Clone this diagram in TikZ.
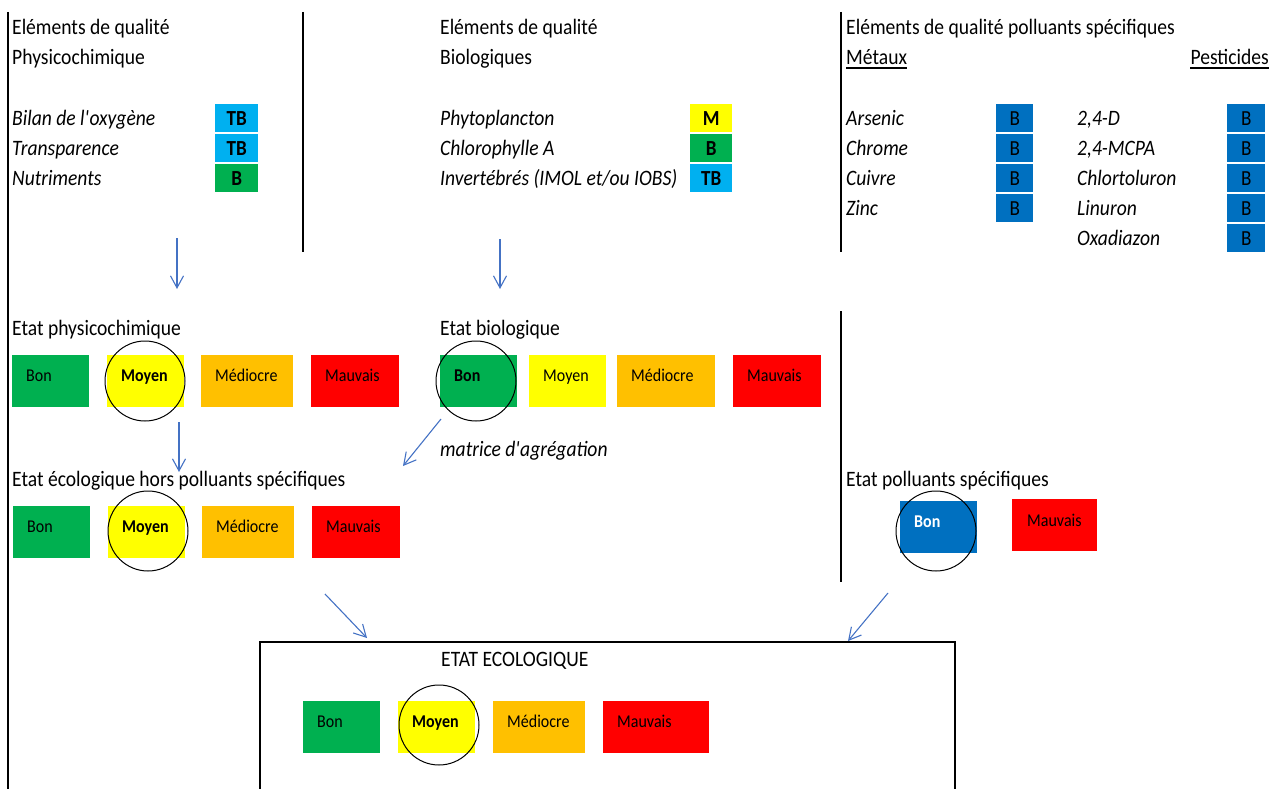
\documentclass[tikz,border=0pt]{standalone}
\usepackage{fontspec}
\setmainfont{Carlito}[FakeStretch=0.89]
\usetikzlibrary{arrows.meta}

\definecolor{qgreen}{HTML}{00B050}
\definecolor{qyellow}{HTML}{FFFF00}
\definecolor{qorange}{HTML}{FFC000}
\definecolor{qred}{HTML}{FF0000}
\definecolor{qblue}{HTML}{0070C0}
\definecolor{qlight}{HTML}{00B0F0}
\definecolor{arrowblue}{HTML}{4472C4}

\tikzset{
  txt/.style={inner sep=0pt, anchor=base west, font=\fontsize{22}{26}\selectfont},
  itm/.style={txt, font=\fontsize{22}{26}\selectfont\itshape},
  lab/.style={inner sep=0pt, anchor=base west, font=\fontsize{18}{22}\selectfont},
  badge/.style={inner sep=0pt, anchor=north west, font=\fontsize{21.5}{24}\selectfont},
  ratebox/.style={inner sep=0pt, anchor=north west, draw=none},
  ring/.style={circle, draw=black, line width=1pt, inner sep=0pt, minimum size=80pt},
  frame/.style={line width=2pt, black},
  flow/.style={arrowblue, line width=1.1pt, -{Straight Barb[length=12pt, width=13pt, line width=1.1pt]}},
}

% rating box: name, left x, top y, width, height, fill, label
\newcommand\ratecell[7]{%
  \node[ratebox, fill=#6, minimum width=#4pt, minimum height=#5pt] (#1) at (#2,#3) {};
  \node[lab] (#1-t) at ([xshift=14pt, yshift=-26pt]#1.north west) {#7};
}
% badge: name, left x, top y, width, fill, text
\newcommand\badgecell[6]{%
  \node[badge, fill=#5, minimum width=#4pt, minimum height=28pt] (#1) at (#2,#3) {#6};
}
\newcommand\apos{\textquotesingle}

\begin{document}
\begin{tikzpicture}[x=1pt, y=-1pt]
\useasboundingbox (0,0) rectangle (1279,789);

% ---- frame lines
\coordinate (l1a) at (8,12);    \coordinate (l1b) at (8,792);
\coordinate (l2a) at (303,12);  \coordinate (l2b) at (303,252);
\coordinate (l3a) at (841,12);  \coordinate (l3b) at (841,252);
\coordinate (l4a) at (841,311); \coordinate (l4b) at (841,582);
\draw[frame] (l1a) -- (l1b);
\draw[frame] (l2a) -- (l2b);
\draw[frame] (l3a) -- (l3b);
\draw[frame] (l4a) -- (l4b);
\coordinate (fbl) at (260,795); \coordinate (ftl) at (260,642);
\coordinate (ftr) at (955,642); \coordinate (fbr) at (955,795);
\draw[frame, line width=2.4pt] (fbl) -- (ftl) -- (ftr) -- (fbr);

% ---- physicochemical quality elements
\node[txt] (h1a) at (12,35) {Eléments de qualité};
\node[txt] (h1b) at (12,65) {Physicochimique};
\node[itm] (p1) at (12,125) {Bilan de l\apos oxygène};
\node[itm] (p2) at (12,155) {Transparence};
\node[itm] (p3) at (12,185) {Nutriments};
\badgecell{bp1}{215}{104}{43}{qlight}{\bfseries TB}
\badgecell{bp2}{215}{134}{43}{qlight}{\bfseries TB}
\badgecell{bp3}{215}{164}{43}{qgreen}{\bfseries B}

% ---- biological quality elements
\node[txt] (h2a) at (440,35) {Eléments de qualité};
\node[txt] (h2b) at (440,65) {Biologiques};
\node[itm] (b1) at (440,125) {Phytoplancton};
\node[itm] (b2) at (440,155) {Chlorophylle A};
\node[itm] (b3) at (440,185) {Invertébrés (IMOL et/ou IOBS)};
\badgecell{bb1}{690}{104}{42}{qyellow}{\bfseries M}
\badgecell{bb2}{690}{134}{42}{qgreen}{\bfseries B}
\badgecell{bb3}{690}{164}{42}{qlight}{\bfseries TB}

% ---- specific pollutants
\node[txt] (h3a) at (846,35) {Eléments de qualité polluants spécifiques};
\node[txt] (met) at (846,65) {Métaux};
\node[txt, anchor=base east] (pes) at (1269,65) {Pesticides};
\draw[line width=1.2pt] ([yshift=-3pt]met.base west) -- ([yshift=-3pt]met.base east);
\draw[line width=1.2pt] ([yshift=-3pt]pes.base west) -- ([yshift=-3pt]pes.base east);
\node[itm] (m1) at (846,125) {Arsenic};
\node[itm] (m2) at (846,155) {Chrome};
\node[itm] (m3) at (846,185) {Cuivre};
\node[itm] (m4) at (846,215) {Zinc};
\badgecell{bm1}{996}{104}{37}{qblue}{B}
\badgecell{bm2}{996}{134}{37}{qblue}{B}
\badgecell{bm3}{996}{164}{37}{qblue}{B}
\badgecell{bm4}{996}{194}{37}{qblue}{B}
\node[itm] (s1) at (1077,125) {2,4-D};
\node[itm] (s2) at (1077,155) {2,4-MCPA};
\node[itm] (s3) at (1077,185) {Chlortoluron};
\node[itm] (s4) at (1077,215) {Linuron};
\node[itm] (s5) at (1077,245) {Oxadiazon};
\badgecell{bs1}{1227}{104}{38}{qblue}{B}
\badgecell{bs2}{1227}{134}{38}{qblue}{B}
\badgecell{bs3}{1227}{164}{38}{qblue}{B}
\badgecell{bs4}{1227}{194}{38}{qblue}{B}
\badgecell{bs5}{1227}{224}{38}{qblue}{B}

% ---- physicochemical state
\node[txt] (e1) at (12,335) {Etat physicochimique};
\ratecell{pcA}{12}{355}{77}{52}{qgreen}{Bon}
\ratecell{pcB}{107}{355}{77}{52}{qyellow}{\bfseries Moyen}
\ratecell{pcC}{201}{355}{92}{52}{qorange}{Médiocre}
\ratecell{pcD}{311}{355}{88}{52}{qred}{Mauvais}
\node[ring] (pcR) at (145,381) {};

% ---- biological state
\node[txt] (e2) at (440,335) {Etat biologique};
\ratecell{biA}{440}{355}{77}{52}{qgreen}{\bfseries Bon}
\ratecell{biB}{529}{355}{77}{52}{qyellow}{Moyen}
\ratecell{biC}{617}{355}{98}{52}{qorange}{Médiocre}
\ratecell{biD}{733}{355}{88}{52}{qred}{Mauvais}
\node[ring] (biR) at (476,381) {};
\node[itm] (agg) at (440,456) {matrice d\apos agrégation};

% ---- ecological state without specific pollutants
\node[txt] (e3) at (12,486) {Etat écologique hors polluants spécifiques};
\ratecell{ecA}{13}{506}{77}{52}{qgreen}{Bon}
\ratecell{ecB}{108}{506}{77}{52}{qyellow}{\bfseries Moyen}
\ratecell{ecC}{202}{506}{92}{52}{qorange}{Médiocre}
\ratecell{ecD}{312}{506}{88}{52}{qred}{Mauvais}
\node[ring] (ecR) at (148,531) {};

% ---- specific pollutants state
\node[txt] (e4) at (846,486) {Etat polluants spécifiques};
\ratecell{psA}{900}{501}{77}{52}{qblue}{\color{white}\bfseries Bon}
\node[ratebox, fill=qred, minimum width=85pt, minimum height=52pt] (psB) at (1012,499) {};
\node[lab] (psB-t) at ([xshift=15pt, yshift=-27pt]psB.north west) {Mauvais};
\node[ring] (psR) at (936,531) {};

% ---- overall ecological state
\node[txt] (e5) at (441,666) {ETAT ECOLOGIQUE};
\ratecell{fnA}{303}{701}{77}{52}{qgreen}{Bon}
\ratecell{fnB}{398}{701}{77}{52}{qyellow}{\bfseries Moyen}
\ratecell{fnC}{493}{701}{92}{52}{qorange}{Médiocre}
\ratecell{fnD}{603}{701}{106}{52}{qred}{Mauvais}
\node[ring] (fnR) at (439,725) {};

% ---- flow arrows
\coordinate (a1s) at (177,238); \coordinate (a1e) at (177,289);
\coordinate (a2s) at (500,239); \coordinate (a2e) at (500,289);
\coordinate (a3s) at (179,422); \coordinate (a3e) at (179,472);
\coordinate (a4s) at (441,419); \coordinate (a4e) at (403,466);
\coordinate (a5s) at (325,594); \coordinate (a5e) at (367,638);
\coordinate (a6s) at (888,593); \coordinate (a6e) at (848,641);
\draw[flow] (a1s) -- (a1e);
\draw[flow] (a2s) -- (a2e);
\draw[flow] (a3s) -- (a3e);
\draw[flow] (a4s) -- (a4e);
\draw[flow] (a5s) -- (a5e);
\draw[flow] (a6s) -- (a6e);
\end{tikzpicture}
\end{document}
